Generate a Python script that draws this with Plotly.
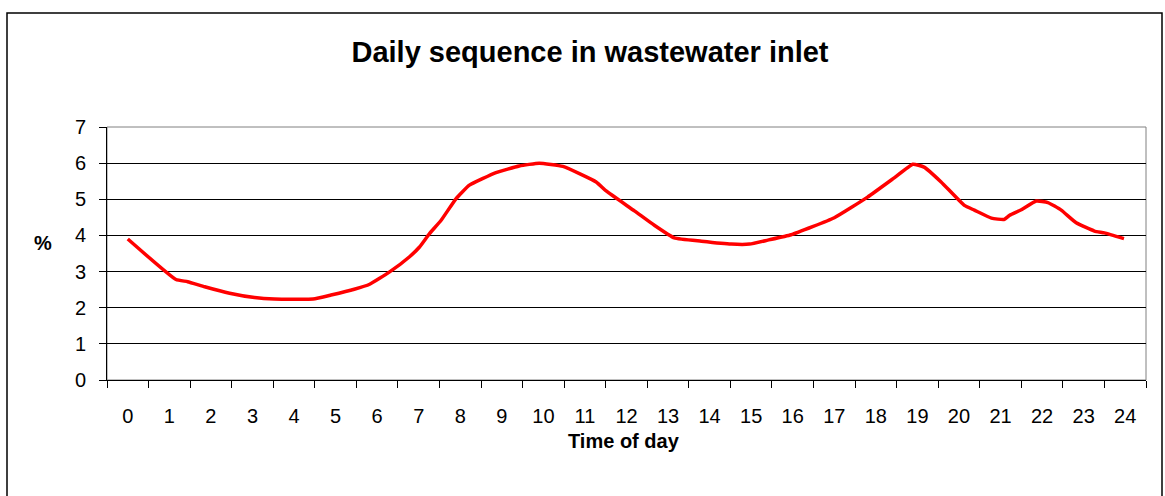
import plotly.graph_objects as go

# Values
hours = [0, 1.16, 1.44, 1.85, 2.45, 3.05, 3.53, 4.46, 4.89, 5.45, 5.82, 6.30, 6.78,
         7.02, 7.26, 7.54, 7.90, 8.22, 8.86, 9.42, 9.90, 10.47, 11.27, 11.51, 12.19,
         12.67, 13.15, 13.80, 14.52, 14.96, 15.40, 15.96, 17.00, 17.80, 18.45, 18.89,
         19.16, 19.57, 20.13, 20.37, 20.78, 21.08, 21.22, 21.50, 21.86, 22.14, 22.46,
         22.82, 23.26, 23.50, 23.97]
inlet_pct = [3.90, 2.78, 2.72, 2.58, 2.40, 2.28, 2.24, 2.24, 2.35, 2.51, 2.65, 2.99, 3.41,
             3.68, 4.05, 4.42, 5.02, 5.39, 5.74, 5.92, 6.00, 5.91, 5.48, 5.23, 4.68,
             4.28, 3.93, 3.84, 3.76, 3.76, 3.87, 4.02, 4.49, 5.06, 5.60, 5.97,
             5.89, 5.48, 4.83, 4.70, 4.48, 4.44, 4.56, 4.71, 4.95, 4.91, 4.70,
             4.35, 4.12, 4.07, 3.91]

hour_ticks = list(range(25))
hour_labels = [str(h) for h in hour_ticks]
y_ticks = list(range(8))
y_labels = [str(v) for v in y_ticks]

title_text = "Daily sequence in wastewater inlet"
x_title = "Time of day"
y_title = "%"

FONT = "Liberation Sans, Arial, sans-serif"

fig = go.Figure(
    go.Scatter(
        x=hours, y=inlet_pct, mode="lines",
        line=dict(color="#FF0000", width=3.5, shape="spline", smoothing=0.4),
        showlegend=False,
    )
)

fig.update_layout(
    width=1165, height=496,
    margin=dict(l=107, r=19, t=127, b=116),
    paper_bgcolor="white", plot_bgcolor="white",
    font=dict(family=FONT, color="black", size=20),
    showlegend=False,
    title=dict(
        text="<b>" + title_text + "</b>",
        x=590 / 1165, xref="container", xanchor="center",
        y=1 - 52 / 496, yref="container", yanchor="middle",
        font=dict(family=FONT, size=29, color="black"),
    ),
)

fig.update_xaxes(
    range=[-0.5, 24.5],
    tickmode="array", tickvals=hour_ticks, ticktext=hour_labels,
    ticks="", ticklabelstandoff=18,
    tickfont=dict(family=FONT, size=20, color="black"),
    showgrid=False, zeroline=False,
    showline=True, linecolor="black", linewidth=1,
    minor=dict(
        tickmode="array", tickvals=[h - 0.5 for h in range(26)],
        ticks="outside", ticklen=7, tickcolor="black", tickwidth=1, showgrid=False,
    ),
)

fig.update_yaxes(
    range=[0, 7],
    tickmode="array", tickvals=y_ticks, ticktext=y_labels,
    ticks="outside", ticklen=7, tickcolor="black", tickwidth=1,
    ticklabelstandoff=9,
    tickfont=dict(family=FONT, size=20, color="black"),
    showgrid=True, gridcolor="black", gridwidth=1,
    zeroline=False,
    showline=True, linecolor="black", linewidth=1,
)

# plot-area border (grey) and outer chart border (black)
fig.add_shape(type="rect", xref="paper", yref="paper", x0=0, x1=1, y0=0, y1=1,
              line=dict(color="#808080", width=1), layer="below")
fig.add_shape(type="rect", xref="paper", yref="paper",
              x0=(7 - 107) / 1039, x1=(1162 - 107) / 1039,
              y0=-2, y1=(380 - 13) / 253,
              line=dict(color="black", width=1.5), layer="above")

fig.add_annotation(text="<b>" + x_title + "</b>", xref="paper", yref="paper",
                   x=(624 - 107) / 1039, y=(380 - 441) / 253,
                   xanchor="center", yanchor="middle", showarrow=False,
                   font=dict(family=FONT, size=20, color="black"))
fig.add_annotation(text="<b>" + y_title + "</b>", xref="paper", yref="paper",
                   x=(43 - 107) / 1039, y=(380 - 243) / 253,
                   xanchor="center", yanchor="middle", showarrow=False,
                   font=dict(family=FONT, size=20, color="black"))

fig.write_html("out.html",
               config={"displayModeBar": False},
               post_script="document.body.style.margin='0';document.body.style.overflow='hidden';")
